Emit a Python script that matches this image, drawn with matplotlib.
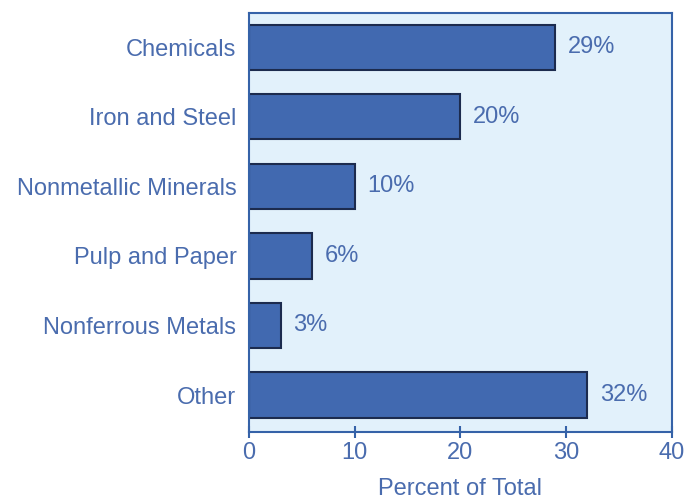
import matplotlib.pyplot as plt
import numpy as np

categories = ["Chemicals", "Iron and Steel", "Nonmetallic Minerals",
              "Pulp and Paper", "Nonferrous Metals", "Other"]
percent = [29, 20, 10, 6, 3, 32]
xticks = [0, 10, 20, 30, 40]

text_color = "#4a6cae"
bar_color = "#4169b0"
edge_color = "#1c2b4e"
bg_color = "#e2f1fb"
spine_color = "#3562a8"
fs = 17

plt.rcParams["font.family"] = ["Liberation Sans", "DejaVu Sans"]

fig = plt.figure(figsize=(6.84, 5.04), dpi=100)
ax = fig.add_axes([0.364, 0.143, 0.618, 0.831])
ax.set_facecolor(bg_color)

y = np.arange(len(categories))
ax.barh(y, percent, height=0.65, color=bar_color, edgecolor=edge_color, linewidth=1.5)

for yi, v in zip(y, percent):
    ax.text(v + 1.2, yi, f"{v}%", va="center", ha="left", fontsize=fs, color=text_color)

ax.set_xlim(0, 40)
ax.set_ylim(5.53, -0.49)
ax.set_yticks(y)
ax.set_yticklabels(categories, fontsize=fs, color=text_color)
ax.set_xticks(xticks)
ax.set_xticklabels([str(t) for t in xticks], fontsize=fs, color=text_color)
ax.tick_params(axis="y", length=0, pad=9)
ax.tick_params(axis="x", direction="inout", length=8, width=1.5, color=spine_color, pad=3)
ax.set_xlabel("Percent of Total", fontsize=fs, color=text_color, labelpad=10)

for s in ax.spines.values():
    s.set_color(spine_color)
    s.set_linewidth(1.5)

fig.savefig("out.png", dpi=100)
